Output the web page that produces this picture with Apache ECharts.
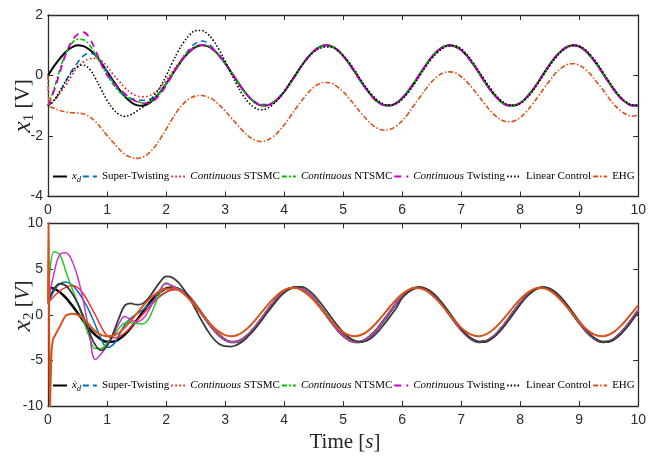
<!DOCTYPE html>
<html>
<head>
<meta charset="utf-8">
<script src="https://cdn.jsdelivr.net/npm/echarts@6/dist/echarts.min.js"></script>
<style>
  html, body { margin: 0; padding: 0; background: #fff; }
  #chart { width: 649px; height: 457px; }
</style>
</head>
<body>
<div id="chart"></div>
<script>
// Sampling step of the stored trajectories (seconds)
const tStep = 0.1;

// ---------- x1 (position) trajectories, t = 0 ... 10 s ----------
const xdX1 = [
  0.00, 0.30, 0.56, 0.78, 0.93, 1.00, 0.97, 0.86, 0.68, 0.43,
  0.14, -0.16, -0.44, -0.69, -0.87, -0.98, -1.00, -0.93, -0.77, -0.55,
  -0.28, 0.02, 0.31, 0.58, 0.79, 0.94, 1.00, 0.97, 0.85, 0.66,
  0.41, 0.12, -0.17, -0.46, -0.70, -0.88, -0.98, -0.99, -0.92, -0.76,
  -0.54, -0.26, 0.03, 0.33, 0.59, 0.80, 0.94, 1.00, 0.97, 0.85,
  0.65, 0.40, 0.11, -0.19, -0.47, -0.71, -0.89, -0.98, -0.99, -0.91,
  -0.75, -0.52, -0.25, 0.05, 0.34, 0.61, 0.81, 0.95, 1.00, 0.96,
  0.84, 0.64, 0.38, 0.09, -0.21, -0.49, -0.72, -0.90, -0.99, -0.99,
  -0.91, -0.74, -0.51, -0.23, 0.07, 0.36, 0.62, 0.82, 0.95, 1.00,
  0.96, 0.83, 0.62, 0.37, 0.07, -0.22, -0.50, -0.74, -0.90, -0.99, -0.99
];
const stX1 = [
  -1.00, -0.85, -0.55, -0.20, 0.15, 0.42, 0.65, 0.73, 0.68, 0.45,
  0.12, -0.20, -0.47, -0.65, -0.75, -0.80, -0.82, -0.80, -0.72, -0.55,
  -0.30, 0.00, 0.34, 0.62, 0.88, 1.06, 1.14, 1.08, 0.90, 0.66,
  0.39, 0.10, -0.19, -0.47, -0.70, -0.86, -0.95, -0.96, -0.90, -0.75,
  -0.53, -0.26, 0.03, 0.33, 0.59, 0.80, 0.94, 1.00, 0.97, 0.85,
  0.65, 0.40, 0.11, -0.19, -0.47, -0.71, -0.89, -0.98, -0.99, -0.91,
  -0.75, -0.52, -0.25, 0.05, 0.34, 0.61, 0.81, 0.95, 1.00, 0.96,
  0.84, 0.64, 0.38, 0.09, -0.21, -0.49, -0.72, -0.90, -0.99, -0.99,
  -0.91, -0.74, -0.51, -0.23, 0.07, 0.36, 0.62, 0.82, 0.95, 1.00,
  0.96, 0.83, 0.62, 0.37, 0.07, -0.22, -0.50, -0.74, -0.90, -0.99, -0.99
];
const stsmcX1 = [
  -1.00, -0.83, -0.60, -0.32, -0.01, 0.27, 0.45, 0.55, 0.57, 0.50,
  0.30, 0.05, -0.18, -0.40, -0.57, -0.67, -0.70, -0.68, -0.58, -0.40,
  -0.17, 0.10, 0.38, 0.64, 0.84, 0.96, 1.01, 0.98, 0.86, 0.66,
  0.41, 0.12, -0.17, -0.46, -0.70, -0.88, -0.98, -0.99, -0.92, -0.76,
  -0.54, -0.26, 0.03, 0.33, 0.59, 0.80, 0.94, 1.00, 0.97, 0.85,
  0.65, 0.40, 0.11, -0.19, -0.47, -0.71, -0.89, -0.98, -0.99, -0.91,
  -0.75, -0.52, -0.25, 0.05, 0.34, 0.61, 0.81, 0.95, 1.00, 0.96,
  0.84, 0.64, 0.38, 0.09, -0.21, -0.49, -0.72, -0.90, -0.99, -0.99,
  -0.91, -0.74, -0.51, -0.23, 0.07, 0.36, 0.62, 0.82, 0.95, 1.00,
  0.96, 0.83, 0.62, 0.37, 0.07, -0.22, -0.50, -0.74, -0.90, -0.99, -0.99
];
const ntsmcX1 = [
  -1.00, -0.45, 0.20, 0.72, 1.05, 1.20, 1.18, 1.02, 0.72, 0.36,
  0.02, -0.28, -0.52, -0.68, -0.78, -0.85, -0.90, -0.88, -0.76, -0.56,
  -0.28, 0.03, 0.33, 0.60, 0.81, 0.95, 1.01, 0.98, 0.86, 0.66,
  0.41, 0.12, -0.17, -0.46, -0.70, -0.88, -0.98, -0.99, -0.92, -0.76,
  -0.54, -0.26, 0.03, 0.33, 0.59, 0.80, 0.94, 1.00, 0.97, 0.85,
  0.65, 0.40, 0.11, -0.19, -0.47, -0.71, -0.89, -0.98, -0.99, -0.91,
  -0.75, -0.52, -0.25, 0.05, 0.34, 0.61, 0.81, 0.95, 1.00, 0.96,
  0.84, 0.64, 0.38, 0.09, -0.21, -0.49, -0.72, -0.90, -0.99, -0.99,
  -0.91, -0.74, -0.51, -0.23, 0.07, 0.36, 0.62, 0.82, 0.95, 1.00,
  0.96, 0.83, 0.62, 0.37, 0.07, -0.22, -0.50, -0.74, -0.90, -0.99, -0.99
];
const twX1 = [
  -1.00, -0.52, 0.10, 0.70, 1.12, 1.36, 1.43, 1.25, 0.85, 0.40,
  0.02, -0.22, -0.42, -0.60, -0.76, -0.86, -0.92, -0.92, -0.82, -0.62,
  -0.34, 0.00, 0.32, 0.60, 0.81, 0.95, 1.01, 0.98, 0.86, 0.66,
  0.41, 0.12, -0.17, -0.46, -0.70, -0.88, -0.98, -0.99, -0.92, -0.76,
  -0.54, -0.26, 0.03, 0.33, 0.59, 0.80, 0.94, 1.00, 0.97, 0.85,
  0.65, 0.40, 0.11, -0.19, -0.47, -0.71, -0.89, -0.98, -0.99, -0.91,
  -0.75, -0.52, -0.25, 0.05, 0.34, 0.61, 0.81, 0.95, 1.00, 0.96,
  0.84, 0.64, 0.38, 0.09, -0.21, -0.49, -0.72, -0.90, -0.99, -0.99,
  -0.91, -0.74, -0.51, -0.23, 0.07, 0.36, 0.62, 0.82, 0.95, 1.00,
  0.96, 0.83, 0.62, 0.37, 0.07, -0.22, -0.50, -0.74, -0.90, -0.99, -0.99
];
const linX1 = [
  -1.00, -0.82, -0.52, -0.18, 0.10, 0.30, 0.34, 0.22, -0.08, -0.45,
  -0.82, -1.10, -1.28, -1.35, -1.30, -1.18, -1.05, -0.88, -0.66, -0.38,
  -0.02, 0.40, 0.78, 1.10, 1.34, 1.48, 1.49, 1.38, 1.16, 0.85,
  0.48, 0.08, -0.30, -0.64, -0.90, -1.06, -1.13, -1.10, -0.98, -0.79,
  -0.54, -0.24, 0.06, 0.34, 0.58, 0.77, 0.89, 0.94, 0.93, 0.84,
  0.67, 0.44, 0.16, -0.14, -0.42, -0.66, -0.84, -0.95, -0.98, -0.93,
  -0.79, -0.57, -0.30, -0.01, 0.29, 0.55, 0.76, 0.91, 0.98, 0.98,
  0.88, 0.69, 0.44, 0.15, -0.15, -0.43, -0.68, -0.86, -0.97, -0.99,
  -0.93, -0.77, -0.55, -0.27, 0.03, 0.32, 0.58, 0.79, 0.93, 0.99,
  0.97, 0.86, 0.66, 0.41, 0.12, -0.18, -0.46, -0.70, -0.88, -0.98, -0.99
];
// EHG: the first instants are stored as (t, x1) pairs, the rest from t = 0.1 s
const ehgX1Head = [[0, 0.00], [0.02, -1.00]];
const ehgX1 = [
  -1.08, -1.16, -1.20, -1.23, -1.24, -1.27, -1.36, -1.52, -1.74,
  -1.98, -2.20, -2.42, -2.60, -2.70, -2.74, -2.70, -2.58, -2.38, -2.10,
  -1.78, -1.45, -1.15, -0.92, -0.76, -0.68, -0.66, -0.71, -0.80, -0.97,
  -1.17, -1.39, -1.61, -1.83, -2.01, -2.13, -2.18, -2.15, -2.04, -1.87,
  -1.64, -1.37, -1.09, -0.83, -0.59, -0.39, -0.27, -0.23, -0.25, -0.37,
  -0.53, -0.75, -0.99, -1.23, -1.45, -1.64, -1.76, -1.81, -1.78, -1.67,
  -1.50, -1.27, -0.99, -0.72, -0.45, -0.21, -0.03, 0.09, 0.12, 0.09,
  -0.04, -0.22, -0.44, -0.69, -0.94, -1.18, -1.36, -1.49, -1.53, -1.50,
  -1.39, -1.21, -0.97, -0.71, -0.43, -0.17, 0.08, 0.25, 0.36, 0.39,
  0.34, 0.21, 0.02, -0.22, -0.47, -0.74, -0.98, -1.16, -1.29, -1.34, -1.31
];

// ---------- x2 (velocity) trajectories, t = 0 ... 10 s ----------
const dxdX2 = [
  3.00, 2.87, 2.48, 1.87, 1.09, 0.21, -0.68, -1.51, -2.21, -2.71,
  -2.97, -2.96, -2.69, -2.18, -1.47, -0.63, 0.26, 1.13, 1.90, 2.50,
  2.88, 3.00, 2.85, 2.45, 1.83, 1.04, 0.16, -0.73, -1.56, -2.25,
  -2.73, -2.98, -2.95, -2.67, -2.14, -1.43, -0.58, 0.31, 1.18, 1.94,
  2.53, 2.89, 3.00, 2.84, 2.42, 1.79, 0.99, 0.11, -0.78, -1.60,
  -2.28, -2.75, -2.98, -2.95, -2.64, -2.11, -1.38, -0.53, 0.36, 1.23,
  1.98, 2.56, 2.91, 3.00, 2.82, 2.39, 1.74, 0.95, 0.06, -0.83,
  -1.64, -2.31, -2.77, -2.99, -2.94, -2.62, -2.07, -1.34, -0.48, 0.41,
  1.27, 2.02, 2.58, 2.92, 2.99, 2.80, 2.36, 1.70, 0.90, 0.01,
  -0.88, -1.69, -2.34, -2.79, -2.99, -2.92, -2.60, -2.03, -1.29, -0.43, 0.46
];
const stX2 = [
  1.20, 2.60, 3.40, 3.60, 3.30, 2.60, 1.60, 0.40, -1.10, -2.60,
  -3.60, -3.30, -2.30, -1.10, -0.40, 0.10, 0.50, 1.00, 1.60, 2.10,
  2.50, 2.80, 2.85, 2.60, 2.00, 1.20, 0.30, -0.60, -1.50, -2.20,
  -2.70, -2.96, -2.95, -2.67, -2.14, -1.43, -0.58, 0.31, 1.18, 1.94,
  2.53, 2.89, 3.00, 2.84, 2.42, 1.79, 0.99, 0.11, -0.78, -1.60,
  -2.28, -2.75, -2.98, -2.95, -2.64, -2.11, -1.38, -0.53, 0.36, 1.23,
  1.98, 2.56, 2.91, 3.00, 2.82, 2.39, 1.74, 0.95, 0.06, -0.83,
  -1.64, -2.31, -2.77, -2.99, -2.94, -2.62, -2.07, -1.34, -0.48, 0.41,
  1.27, 2.02, 2.58, 2.92, 2.99, 2.80, 2.36, 1.70, 0.90, 0.01,
  -0.88, -1.69, -2.34, -2.79, -2.99, -2.92, -2.60, -2.03, -1.29, -0.43, 0.46
];
const stsmcX2 = [
  1.30, 2.00, 2.60, 3.00, 3.20, 3.00, 2.30, 1.20, 0.00, -1.30,
  -2.30, -2.55, -2.40, -2.00, -1.40, -0.70, 0.00, 0.70, 1.40, 2.00,
  2.45, 2.70, 2.75, 2.55, 2.00, 1.15, 0.25, -0.65, -1.50, -2.20,
  -2.73, -2.98, -2.95, -2.67, -2.14, -1.43, -0.58, 0.31, 1.18, 1.94,
  2.53, 2.89, 3.00, 2.84, 2.42, 1.79, 0.99, 0.11, -0.78, -1.60,
  -2.28, -2.75, -2.98, -2.95, -2.64, -2.11, -1.38, -0.53, 0.36, 1.23,
  1.98, 2.56, 2.91, 3.00, 2.82, 2.39, 1.74, 0.95, 0.06, -0.83,
  -1.64, -2.31, -2.77, -2.99, -2.94, -2.62, -2.07, -1.34, -0.48, 0.41,
  1.27, 2.02, 2.58, 2.92, 2.99, 2.80, 2.36, 1.70, 0.90, 0.01,
  -0.88, -1.69, -2.34, -2.79, -2.99, -2.92, -2.60, -2.03, -1.29, -0.43, 0.46
];
const ntsmcX2 = [
  1.20, 6.90, 6.60, 4.80, 3.00, 1.30, -0.60, -2.40, -3.70, -3.70,
  -3.10, -2.40, -1.50, -0.90, -0.85, -0.95, -1.00, -0.50, 0.90, 2.40,
  3.50, 3.20, 2.80, 2.40, 1.80, 1.00, 0.15, -0.75, -1.60, -2.30,
  -2.73, -2.98, -2.95, -2.67, -2.14, -1.43, -0.58, 0.31, 1.18, 1.94,
  2.53, 2.89, 3.00, 2.84, 2.42, 1.79, 0.99, 0.11, -0.78, -1.60,
  -2.28, -2.75, -2.98, -2.95, -2.64, -2.11, -1.38, -0.53, 0.36, 1.23,
  1.98, 2.56, 2.91, 3.00, 2.82, 2.39, 1.74, 0.95, 0.06, -0.83,
  -1.64, -2.31, -2.77, -2.99, -2.94, -2.62, -2.07, -1.34, -0.48, 0.41,
  1.27, 2.02, 2.58, 2.92, 2.99, 2.80, 2.36, 1.70, 0.90, 0.01,
  -0.88, -1.69, -2.34, -2.79, -2.99, -2.92, -2.60, -2.03, -1.29, -0.43, 0.46
];
const twX2 = [
  1.20, 4.50, 6.60, 6.80, 6.00, 4.20, 1.50, -2.00, -4.90, -4.30,
  -3.40, -2.30, -1.00, -0.20, -0.50, -0.80, -0.50, 0.40, 1.60, 2.80,
  3.40, 3.20, 2.80, 2.40, 1.80, 1.00, 0.15, -0.75, -1.60, -2.30,
  -2.73, -2.98, -2.95, -2.67, -2.14, -1.43, -0.58, 0.31, 1.18, 1.94,
  2.53, 2.89, 3.00, 2.84, 2.42, 1.79, 0.99, 0.11, -0.78, -1.60,
  -2.28, -2.75, -2.98, -2.95, -2.64, -2.11, -1.38, -0.53, 0.36, 1.23,
  1.98, 2.56, 2.91, 3.00, 2.82, 2.39, 1.74, 0.95, 0.06, -0.83,
  -1.64, -2.31, -2.77, -2.99, -2.94, -2.62, -2.07, -1.34, -0.48, 0.41,
  1.27, 2.02, 2.58, 2.92, 2.99, 2.80, 2.36, 1.70, 0.90, 0.01,
  -0.88, -1.69, -2.34, -2.79, -2.99, -2.92, -2.60, -2.03, -1.29, -0.43, 0.46
];
const linX2 = [
  1.50, 2.80, 3.40, 3.20, 2.40, 1.30, -0.20, -1.90, -3.30, -3.90,
  -3.40, -2.10, -0.40, 1.00, 1.25, 1.10, 1.20, 1.80, 2.70, 3.60,
  4.20, 4.10, 3.60, 2.80, 1.80, 0.60, -0.60, -1.70, -2.60, -3.20,
  -3.45, -3.50, -3.30, -2.90, -2.30, -1.60, -0.80, 0.10, 0.95, 1.75,
  2.40, 2.85, 3.05, 3.05, 2.75, 2.20, 1.45, 0.60, -0.30, -1.15,
  -1.90, -2.50, -2.85, -3.00, -2.85, -2.45, -1.80, -1.00, -0.15, 0.75,
  1.84, 2.47, 2.87, 3.01, 2.88, 2.50, 1.89, 1.12, 0.24, -0.66,
  -1.49, -2.20, -2.70, -2.97, -2.98, -2.71, -2.20, -1.50, -0.66, 0.23,
  1.11, 1.89, 2.49, 2.88, 3.00, 2.87, 2.47, 1.85, 1.07, 0.19,
  -0.71, -1.54, -2.23, -2.72, -2.98, -2.96, -2.69, -2.16, -1.45, -0.61, 0.28
];
// EHG: start-up spike stored as (t, x2) pairs, the rest from t = 0.1 s
const ehgX2Head = [[0, 1.5], [0.01, 11], [0.03, -11], [0.06, -4.0], [0.085, -2.7]];
const ehgX2 = [
  -2.50, -1.30, -0.10, 0.10, 0.00, -0.40, -1.10, -1.80, -2.20,
  -2.35, -2.30, -2.00, -1.40, -0.70, 0.10, 0.90, 1.60, 2.20, 2.60,
  2.85, 2.90, 2.75, 2.30, 1.65, 0.90,
  0.12, -0.65, -1.34, -1.88, -2.23, -2.35, -2.24, -1.89, -1.36, -0.67,
  0.10, 0.89, 1.63, 2.25, 2.69, 2.92, 2.92, 2.68, 2.23, 1.61,
  0.87, 0.08, -0.69, -1.37, -1.91, -2.24, -2.35, -2.22, -1.87, -1.32,
  -0.63, 0.15, 0.93, 1.67, 2.28, 2.71, 2.93, 2.91, 2.66, 2.20,
  1.57, 0.83, 0.04, -0.73, -1.41, -1.93, -2.25, -2.35, -2.21, -1.84,
  -1.29, -0.59, 0.19, 0.98, 1.70, 2.31, 2.73, 2.93, 2.90, 2.64,
  2.17, 1.53, 0.78, -0.01, -0.77, -1.44, -1.95, -2.27, -2.35, -2.19,
  -1.82, -1.25, -0.55, 0.24, 1.02
];

// Axis ranges and legend entries
const timeRange = [0, 10];
const x1Range = [-4, 2];
const x2Range = [-10, 10];
const methodNames = ['Super-Twisting', 'Continuous STSMC', 'Continuous NTSMC',
  'Continuous Twisting', 'Linear Control', 'EHG'];

function toPairs(vals, t0) {
  return vals.map((v, i) => [Math.round((t0 + i * tStep) * 1000) / 1000, v]);
}

const serif = "'Liberation Serif', 'Times New Roman', serif";
const tickFont = "'Liberation Sans Narrow', 'Liberation Sans', Arial, sans-serif";
const frameColor = '#2b2b2b';

function xAx(grid, pos, labels) {
  return {
    gridIndex: grid, type: 'value', position: pos,
    min: timeRange[0], max: timeRange[1], interval: 1,
    axisLine: { show: true, onZero: false, lineStyle: { color: frameColor, width: 1.3 } },
    axisTick: { show: true, inside: true, length: 5, lineStyle: { color: frameColor } },
    axisLabel: { show: labels, margin: 7, fontFamily: tickFont, fontSize: 14, color: frameColor },
    splitLine: { show: false }
  };
}
function yAx(grid, pos, range, step, labels) {
  return {
    gridIndex: grid, type: 'value', position: pos,
    min: range[0], max: range[1], interval: step,
    axisLine: { show: true, onZero: false, lineStyle: { color: frameColor, width: 1.3 } },
    axisTick: { show: true, inside: true, length: 5, lineStyle: { color: frameColor } },
    axisLabel: { show: labels, margin: 5, fontFamily: tickFont, fontSize: 14, color: frameColor },
    splitLine: { show: false }
  };
}

function line(name, data, ax, color, width, type, smooth) {
  return {
    name, type: 'line', data, xAxisIndex: ax, yAxisIndex: ax,
    symbol: 'none', smooth: smooth === undefined ? 0.4 : smooth,
    lineStyle: { color, width, type },
    itemStyle: { color },
    z: 2
  };
}

const legendText = {
  'xd': '{m|x}{sub|d}',
  'dxd': '{m|ẋ}{sub|d}',
  'Super-Twisting': 'Super-Twisting',
  'Continuous STSMC': '{i|Continuous} STSMC',
  'Continuous NTSMC': '{i|Continuous} NTSMC',
  'Continuous Twisting': '{i|Continuous} Twisting',
  'Linear Control': 'Linear Control',
  'EHG': 'EHG'
};
const legendRich = {
  m: { fontFamily: serif, fontStyle: 'italic', fontSize: 11, lineHeight: 15, color: '#000' },
  sub: { fontFamily: serif, fontStyle: 'italic', fontSize: 8, lineHeight: 9, verticalAlign: 'bottom', color: '#000' },
  i: { fontFamily: serif, fontStyle: 'italic', fontSize: 11, color: '#000' }
};
function legend(first, top) {
  return {
    data: [first].concat(methodNames),
    left: 52, top, padding: 0, itemGap: 1, itemWidth: 14, itemHeight: 8,
    selectedMode: false,
    itemStyle: { opacity: 0, borderWidth: 0 },
    formatter: n => legendText[n],
    textStyle: { fontFamily: serif, fontSize: 11, color: '#000', rich: legendRich }
  };
}

const chart = echarts.init(document.getElementById('chart'), null, { renderer: 'canvas' });
chart.setOption({
  animation: false,
  backgroundColor: '#fff',
  grid: [
    { left: 48, right: 9, top: 15, height: 181.5 },
    { left: 48, right: 9, top: 223.5, height: 182.5 }
  ],
  xAxis: [xAx(0, 'bottom', true), xAx(0, 'top', false), xAx(1, 'bottom', true), xAx(1, 'top', false)],
  yAxis: [yAx(0, 'left', x1Range, 2, true), yAx(0, 'right', x1Range, 2, false),
          yAx(1, 'left', x2Range, 5, true), yAx(1, 'right', x2Range, 5, false)],
  legend: [legend('xd', 171), legend('dxd', 380)],
  graphic: [
    {
      type: 'text', x: 23, y: 106, rotation: Math.PI / 2,
      style: {
        text: '{x|x}{s|1}{b| [V]}', align: 'center', verticalAlign: 'middle',
        rich: {
          x: { fontFamily: serif, fontStyle: 'italic', fontSize: 26, lineHeight: 28, fill: '#262626' },
          s: { fontFamily: serif, fontSize: 15, lineHeight: 14, verticalAlign: 'bottom', fill: '#262626' },
          b: { fontFamily: serif, fontSize: 21, lineHeight: 28, fill: '#262626' }
        }
      }
    },
    {
      type: 'text', x: 23, y: 306, rotation: Math.PI / 2,
      style: {
        text: '{x|x}{s|2}{b| [}{v|V}{b|]}', align: 'center', verticalAlign: 'middle',
        rich: {
          x: { fontFamily: serif, fontStyle: 'italic', fontSize: 26, lineHeight: 28, fill: '#262626' },
          s: { fontFamily: serif, fontSize: 15, lineHeight: 14, verticalAlign: 'bottom', fill: '#262626' },
          b: { fontFamily: serif, fontSize: 21, lineHeight: 28, fill: '#262626' },
          v: { fontFamily: serif, fontStyle: 'italic', fontSize: 21, lineHeight: 28, fill: '#262626' }
        }
      }
    },
    {
      type: 'text', x: 345, y: 442,
      style: {
        text: '{r|Time [}{i|s}{r|]}', align: 'center', verticalAlign: 'middle',
        rich: {
          r: { fontFamily: serif, fontSize: 21, fill: '#262626' },
          i: { fontFamily: serif, fontStyle: 'italic', fontSize: 21, fill: '#262626' }
        }
      }
    }
  ],
  series: [
    // position plot
    line('xd', toPairs(xdX1, 0), 0, '#000000', 2, 'solid'),
    line('Super-Twisting', toPairs(stX1, 0), 0, '#0072BD', 1.6, [6, 4]),
    line('Continuous STSMC', toPairs(stsmcX1, 0), 0, '#FF0000', 1.6, [1.5, 2.5]),
    line('Continuous NTSMC', toPairs(ntsmcX1, 0), 0, '#00C000', 1.6, [5, 2, 2, 2]),
    line('Continuous Twisting', toPairs(twX1, 0), 0, '#CC00CC', 1.8, [7, 5]),
    line('Linear Control', toPairs(linX1, 0), 0, '#000000', 1.6, [1.5, 2]),
    line('EHG', ehgX1Head.concat(toPairs(ehgX1, 0.1)), 0, '#D95319', 1.6, [5, 2, 1.5, 2]),
    // velocity plot
    line('dxd', toPairs(dxdX2, 0), 2, '#000000', 2.5, 'solid'),
    line('Super-Twisting', toPairs(stX2, 0), 2, '#0072BD', 1.5, 'solid'),
    line('Continuous STSMC', toPairs(stsmcX2, 0), 2, '#FF2A2A', 1.5, 'solid'),
    line('Continuous NTSMC', toPairs(ntsmcX2, 0), 2, '#22CC22', 1.5, 'solid'),
    line('Continuous Twisting', toPairs(twX2, 0), 2, '#CC33CC', 1.5, 'solid'),
    line('Linear Control', toPairs(linX2, 0), 2, '#3A3A3A', 1.8, 'solid'),
    line('EHG', ehgX2Head.concat(toPairs(ehgX2, 0.1)), 2, '#D95319', 2, 'solid', 0.2)
  ]
});
</script>
</body>
</html>
